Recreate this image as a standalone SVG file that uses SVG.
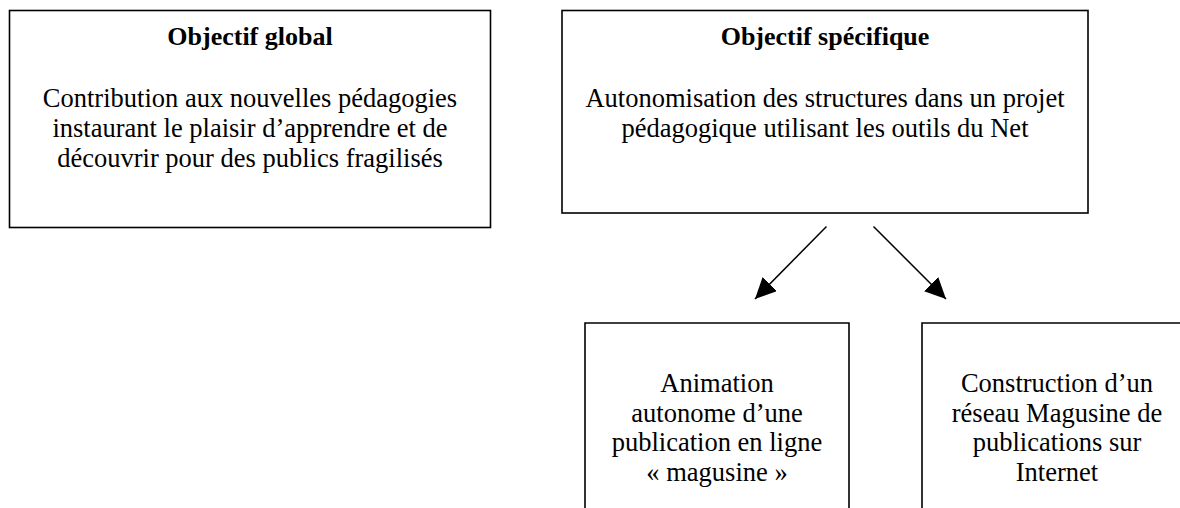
<svg xmlns="http://www.w3.org/2000/svg" width="1180" height="508" viewBox="0 0 1180 508">
<style>
.box{fill:#fff;stroke:#000;stroke-width:1.6}
.t{font-family:"Liberation Serif","Times New Roman",serif;font-size:26.5px;fill:#000;text-anchor:middle}
.b{font-weight:bold;font-size:26px}
.conn{stroke:#000;stroke-width:1.5;fill:none}
</style>
<defs>
<marker id="ah" markerUnits="userSpaceOnUse" markerWidth="22" markerHeight="20" refX="21" refY="10" orient="auto" viewBox="0 0 22 20">
<path d="M0,0 L21,10 L0,20 z" fill="#000"/>
</marker>
</defs>
<rect width="1180" height="508" fill="#fff"/>
<g id="objectif-global">
<rect class="box" x="9.5" y="10.5" width="481" height="217"/>
<text class="t b" x="250" y="45">Objectif global</text>
<text class="t" x="250" y="107">Contribution aux nouvelles pédagogies</text>
<text class="t" x="250" y="137">instaurant le plaisir d’apprendre et de</text>
<text class="t" x="250" y="167">découvrir pour des publics fragilisés</text>
</g>
<g id="objectif-specifique">
<rect class="box" x="562" y="10.5" width="526" height="202.5"/>
<text class="t b" x="825" y="45">Objectif spécifique</text>
<text class="t" x="825" y="107">Autonomisation des structures dans un projet</text>
<text class="t" x="825" y="137">pédagogique utilisant les outils du Net</text>
</g>
<g id="animation">
<path class="box" d="M585,515 V323 H849 V515"/>
<text class="t" x="717" y="392">Animation</text>
<text class="t" x="717" y="421.5">autonome d’une</text>
<text class="t" x="717" y="451">publication en ligne</text>
<text class="t" x="717" y="480.5">« magusine »</text>
</g>
<g id="construction">
<path class="box" d="M922,515 V323 H1192 V515"/>
<text class="t" x="1057" y="392">Construction d’un</text>
<text class="t" x="1057" y="421.5">réseau Magusine de</text>
<text class="t" x="1057" y="451">publications sur</text>
<text class="t" x="1057" y="480.5">Internet</text>
</g>
<g id="connectors">
<line class="conn" x1="826.5" y1="226.5" x2="755" y2="299" marker-end="url(#ah)"/>
<line class="conn" x1="873.5" y1="226.5" x2="946" y2="299" marker-end="url(#ah)"/>
</g>
</svg>
